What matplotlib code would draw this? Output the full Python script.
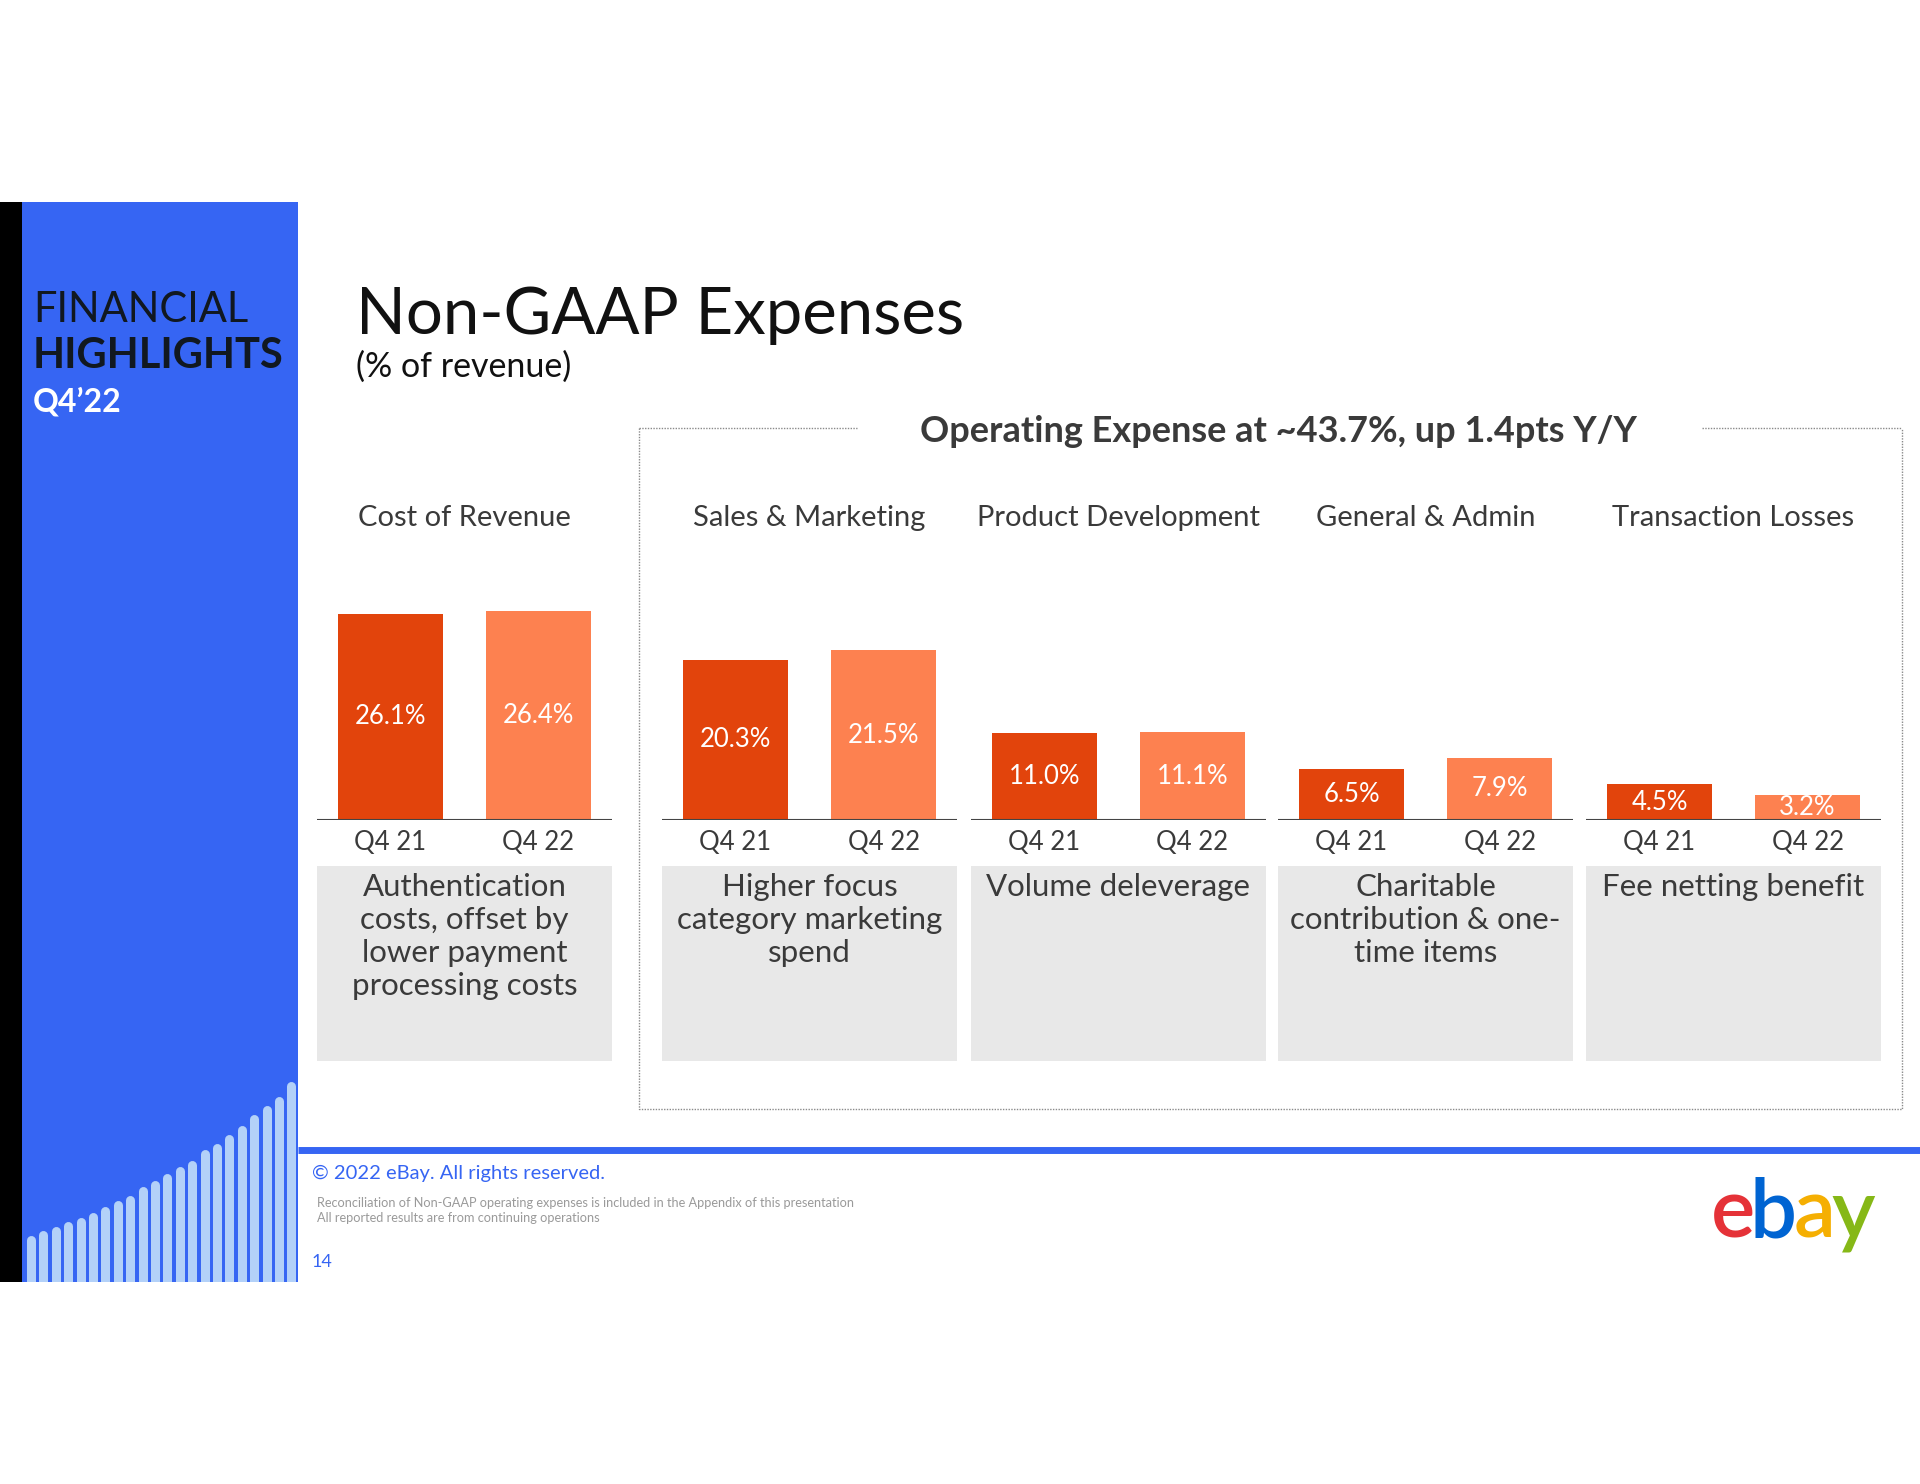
import numpy as np
import matplotlib.pyplot as plt
from matplotlib.patches import Rectangle

plt.rcParams['font.family'] = ['Lato', 'DejaVu Sans']

# --- data ---
categories = ['Cost of Revenue', 'Sales & Marketing', 'Product Development',
              'General & Admin', 'Transaction Losses']
periods = ['Q4 21', 'Q4 22']
q4_21 = [26.1, 20.3, 11.0, 6.5, 4.5]
q4_22 = [26.4, 21.5, 11.1, 7.9, 3.2]
notes = ['Authentication\ncosts, offset by\nlower payment\nprocessing costs',
         'Higher focus\ncategory marketing\nspend',
         'Volume deleverage',
         'Charitable\ncontribution & one-\ntime items',
         'Fee netting benefit']
# decorative bars in the left panel (relative heights, px)
deco_heights = [42, 47, 51, 56, 60, 65, 71, 77, 82, 91, 97, 104, 111, 117,
                128, 134, 143, 152, 163, 172, 181, 196]

# --- colours ---
blue = '#3665F3'
dark_or = '#E2440C'
light_or = '#FD8150'
grey_box = '#E8E8E8'
txt = '#3A3A3A'

W, H = 1920, 1484
fig = plt.figure(figsize=(W / 100, H / 100), dpi=100)
ax = fig.add_axes([0, 0, 1, 1])
ax.set_xlim(0, W)
ax.set_ylim(H, 0)
ax.axis('off')

# left panel
ax.add_patch(Rectangle((0, 202), 22, 1080, color='black', lw=0))
panel = Rectangle((22, 202), 276, 1080, color=blue, lw=0)
ax.add_patch(panel)
xs = 31 + np.arange(len(deco_heights)) * 12.4
tops = 1282 - np.array(deco_heights)
lines = ax.vlines(xs, tops, 1300, color='#B3D1F8', lw=6.5, capstyle='round')
lines.set_clip_path(panel)

ax.text(33, 322, 'FINANCIAL', fontsize=30, color='#111820', va='baseline')
ax.text(33, 368, 'HIGHLIGHTS', fontsize=30, color='#111820', va='baseline',
        fontweight='bold')
ax.text(33, 411, 'Q4\u201922', fontsize=23, color='white', va='baseline',
        fontweight='bold')

# titles
ax.text(356, 334, 'Non-GAAP Expenses', fontsize=47, color='#111111', va='baseline')
ax.text(356, 367, '(% of revenue)', fontsize=24.5, color='#111111', va='center')

# dotted frame
fkw = dict(color='#8A8A8A', lw=1.0, ls=(0, (1, 1)))
ax.plot([639, 639, 1902, 1902], [428, 1109, 1109, 428], **fkw)
ax.plot([639, 857], [428, 428], **fkw)
ax.plot([1702, 1902], [428, 428], **fkw)
ax.text(1278, 431, 'Operating Expense at ~43.7%, up 1.4pts Y/Y', fontsize=26,
        color=txt, fontweight='bold', ha='center', va='center')

# groups
group_left = [317, 662, 971, 1278, 1586]
gw = 295
bar_off = [21, 169]
bw = 105
base_px = 820
px_per_pct = 7.9
ymax = 40

bax = fig.add_axes([0, (H - base_px) / H, 1, ymax * px_per_pct / H])
bax.set_xlim(0, W)
bax.set_ylim(0, ymax)
bax.axis('off')
bax.patch.set_alpha(0)

for i, cat in enumerate(categories):
    gx = group_left[i]
    cx = gx + gw / 2
    for j, (vals, col) in enumerate([(q4_21, dark_or), (q4_22, light_or)]):
        bx = gx + bar_off[j] + bw / 2
        v = vals[i]
        bax.bar(bx, v, width=bw, color=col, lw=0)
        bax.text(bx, v / 2, f'{v:.1f}%', color='white', fontsize=18.5,
                 ha='center', va='center')
        ax.text(bx, 843, periods[j], color=txt, fontsize=18.5,
                ha='center', va='center')
    bax.hlines(0, gx, gx + gw, color='#444444', lw=1.5)
    ax.text(cx, 518, cat, color=txt, fontsize=21, ha='center', va='center')
    ax.add_patch(Rectangle((gx, 866), gw, 195, color=grey_box, lw=0))
    ax.text(cx, 873, notes[i], color=txt, fontsize=22.5, ha='center', va='top',
            linespacing=1.22)

# footer
ax.plot([298, W], [1150, 1150], color=blue, lw=5, solid_capstyle='butt')
ax.text(312, 1173, '\u00a9 2022 eBay. All rights reserved.', fontsize=14.5,
        color=blue, va='center')
ax.text(317, 1203, 'Reconciliation of Non-GAAP operating expenses is included in '
        'the Appendix of this presentation', fontsize=9.2, color='#9A9A9A',
        va='center')
ax.text(317, 1218, 'All reported results are from continuing operations',
        fontsize=9.2, color='#9A9A9A', va='center')
ax.text(312, 1262, '14', fontsize=13, color=blue, va='center')

# ebay logo
for ch, x, col in [('e', 1733, '#E53238'), ('b', 1773, '#0064D2'),
                   ('a', 1815, '#F5AF02'), ('y', 1853, '#86B817')]:
    ax.text(x, 1238, ch, fontsize=60, color=col, ha='center', va='baseline',
            fontweight='semibold')

fig.savefig('out.png', dpi=100)
